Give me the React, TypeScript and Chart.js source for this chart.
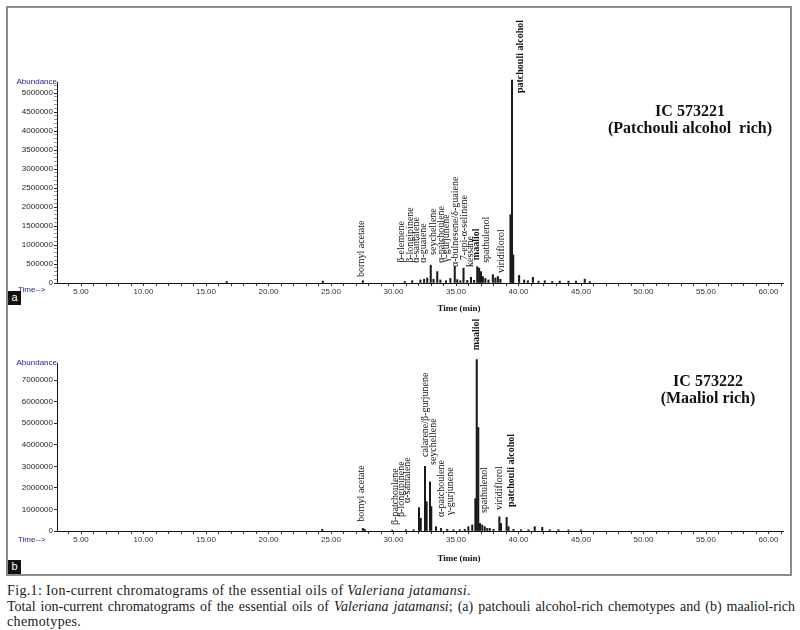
import React, { useEffect, useRef } from 'react';
import { Chart, registerables } from 'chart.js';
Chart.register(...registerables);

// ---------- Panel a: IC 573221 (patchouli alcohol rich) ----------
const timesA = [16.65, 24.35, 27.55, 30.9, 31.5, 32.15, 32.45, 32.7, 32.98, 33.2, 33.5, 33.75, 34.2, 34.55, 34.9, 35.1, 35.35, 35.6, 35.9, 36.2, 36.45, 36.7, 36.85, 37.0, 37.15, 37.35, 37.6, 37.95, 38.15, 38.35, 38.55, 39.36, 39.48, 39.58, 40.05, 40.45, 40.75, 41.15, 41.6, 42.1, 42.7, 43.3, 44.0, 44.6, 45.3, 45.7];
const abundA = [40000, 50000, 60000, 40000, 60000, 80000, 100000, 130000, 470000, 100000, 300000, 80000, 60000, 120000, 430000, 90000, 60000, 390000, 70000, 150000, 70000, 430000, 390000, 300000, 170000, 120000, 80000, 220000, 130000, 170000, 100000, 1800000, 5340000, 740000, 200000, 80000, 60000, 150000, 50000, 60000, 40000, 50000, 50000, 50000, 100000, 40000];
const labelNamesA = ['bornyl acetate', 'β-elemene', 'β-longipinene', 'α-santalene', 'α-guaiene', 'seychellene', 'α-patchoulene', 'γ-gurjunene', 'α-bulnesene/δ-guaiene', '7-epi-α-selinene', 'kessane', 'maaliol', 'spathulenol', 'viridiflorol', 'patchouli alcohol'];
const labelTimesA = [27.46, 30.6, 31.32, 31.86, 32.36, 33.16, 33.8, 34.26, 34.92, 35.64, 36.12, 36.66, 37.46, 38.66, 40.12];
const labelBaseA = [160000, 530000, 530000, 530000, 530000, 740000, 530000, 550000, 420000, 600000, 420000, 600000, 530000, 260000, 5000000];
const yTicksA = { max: 5290000, step: 100000, labelStep: 500000 };

// ---------- Panel b: IC 573222 (maaliol rich) ----------
const timesB = [24.3, 27.55, 27.7, 29.9, 31.0, 31.6, 32.04, 32.18, 32.52, 32.65, 32.92, 33.02, 33.4, 33.8, 34.3, 34.8, 35.3, 35.7, 35.99, 36.3, 36.55, 36.66, 36.78, 36.92, 37.1, 37.3, 37.5, 37.7, 38.0, 38.47, 38.6, 39.05, 39.2, 39.6, 40.2, 40.8, 41.3, 41.9, 42.5, 43.2, 44.0, 45.0];
const abundB = [80000, 120000, 80000, 40000, 50000, 60000, 1080000, 590000, 3000000, 1360000, 2280000, 1130000, 200000, 120000, 80000, 60000, 60000, 80000, 200000, 280000, 1500000, 7950000, 4800000, 350000, 280000, 200000, 120000, 120000, 80000, 660000, 350000, 630000, 200000, 80000, 60000, 60000, 200000, 170000, 60000, 60000, 50000, 50000];
const labelNamesB = ['bornyl acetate', 'β-patchoulene', 'β-longipinene', 'α-santalene', 'calarene/β-gurjunene', 'seychellene', 'α-patchoulene', 'γ-gurjunene', 'maaliol', 'spathulenol', 'viridiflorol', 'patchouli alcohol'];
const labelTimesB = [27.46, 30.12, 30.66, 31.1, 32.52, 33.16, 33.86, 34.52, 36.66, 37.24, 38.46, 39.46];
const labelBaseB = [430000, 280000, 650000, 1300000, 3430000, 3060000, 650000, 740000, 8380000, 830000, 970000, 1110000];
const yTicksB = { max: 7790000, step: 1000000, labelStep: 1000000 };

const xRange = { min: 3.08, max: 61.16, step: 1, labelStep: 5 };

const captionLine1 = 'Fig.1: Ion-current chromatograms of the essential oils of ';
const captionLine2a = 'Total ion-current chromatograms of the essential oils of ';
const captionLine2b = '; (a) patchouli alcohol-rich chemotypes and (b) maaliol-rich';
const captionLine3 = 'chemotypes.';
const species = 'Valeriana jatamansi';

const SANS = '"Liberation Sans", Arial, sans-serif';
const SERIF = '"Liberation Serif", "Times New Roman", serif';
const BOLD_NAMES = ['maaliol', 'patchouli alcohol'];

function labelPlugin(names: string[], times: number[], bases: number[]) {
  return {
    id: 'peakLabels',
    afterDraw(chart: any) {
      const { ctx, scales } = chart;
      const x = scales.x, y = scales.y;
      ctx.save();
      names.forEach((n, i) => {
        const px = x.getPixelForValue(times[i]);
        const py = y.getPixelForValue(bases[i]);
        ctx.save();
        ctx.translate(px, py);
        ctx.rotate(-Math.PI / 2);
        ctx.font = (BOLD_NAMES.includes(n) ? 'bold 10px ' : '10px ') + SERIF;
        ctx.textAlign = 'left';
        ctx.textBaseline = 'middle';
        ctx.fillStyle = '#111';
        ctx.fillText(n, 0, 0);
        ctx.restore();
      });
      ctx.restore();
    },
  };
}

type PanelProps = {
  times: number[]; values: number[];
  names: string[]; labelTimes: number[]; labelBases: number[];
  yt: { max: number; step: number; labelStep: number };
  height: number; padTop: number; padBottom: number; top: number;
};

function Panel(p: PanelProps) {
  const ref = useRef<HTMLCanvasElement>(null);
  useEffect(() => {
    if (!ref.current) return;
    const chart = new Chart(ref.current, {
      type: 'bar',
      data: {
        datasets: [{
          data: p.times.map((t, i) => ({ x: t, y: p.values[i] })),
          backgroundColor: '#1a1a1a',
          borderWidth: 0,
          barThickness: 1.4,
          clip: false as any,
        }],
      },
      options: {
        animation: false,
        responsive: false,
        events: [],
        layout: { padding: { left: 0, right: 17, top: p.padTop, bottom: p.padBottom } },
        plugins: { legend: { display: false }, tooltip: { enabled: false } },
        scales: {
          x: {
            type: 'linear', min: xRange.min, max: xRange.max, offset: false,
            afterFit: (s: any) => { s.height = 17; },
            border: { display: true, color: '#111', width: 1 },
            grid: { display: true, offset: false, drawOnChartArea: false, drawTicks: true, tickLength: 3, tickColor: '#333', tickWidth: 1 },
            ticks: {
              stepSize: xRange.step, includeBounds: false, autoSkip: false, source: 'data', maxRotation: 0, minRotation: 0,
              padding: 1, color: '#333', font: { family: SANS, size: 8 },
              callback: (v: any) => (Math.round(Number(v)) % xRange.labelStep === 0 ? Number(v).toFixed(2) : ''),
            },
          },
          y: {
            type: 'linear', beginAtZero: true, max: p.yt.max,
            afterFit: (s: any) => { s.width = 57; },
            border: { display: true, color: '#111', width: 1 },
            grid: {
              display: true, drawOnChartArea: false, drawTicks: true, tickLength: 3,
              tickColor: (c: any) => (Math.round(c.tick?.value ?? 0) % p.yt.labelStep === 0 ? '#222' : '#999'),
            },
            ticks: {
              stepSize: p.yt.step, includeBounds: false, autoSkip: false, source: 'data', padding: 1,
              color: '#222', font: { family: SANS, size: 8 },
              callback: (v: any) => (Math.round(Number(v)) % p.yt.labelStep === 0 ? String(Math.round(Number(v))) : ''),
            },
          },
        },
      } as any,
      plugins: [labelPlugin(p.names, p.labelTimes, p.labelBases)],
    });
    return () => chart.destroy();
  }, []);
  return (
    <canvas ref={ref} width={800} height={p.height}
      style={{ position: 'absolute', left: 0, top: p.top, width: 800, height: p.height }} />
  );
}

const abs = (s: React.CSSProperties): React.CSSProperties => ({ position: 'absolute', ...s });

export default function App() {
  const blue = '#23239a';
  return (
    <div style={abs({ left: 0, top: 0, width: 800, height: 630, background: '#fff', overflow: 'hidden' })}>
      <div style={abs({ left: 6, top: 6, width: 782, height: 566, border: '2px solid #8c8c8c' })} />
      <Panel times={timesA} values={abundA} names={labelNamesA} labelTimes={labelTimesA} labelBases={labelBaseA}
        yt={yTicksA} height={310} padTop={82} padBottom={10} top={0} />
      <Panel times={timesB} values={abundB} names={labelNamesB} labelTimes={labelTimesB} labelBases={labelBaseB}
        yt={yTicksB} height={270} padTop={53} padBottom={32} top={310} />

      {/* axis captions panel a */}
      <div style={abs({ left: 10, top: 77, width: 47, textAlign: 'right', font: `8px ${SANS}`, color: blue, lineHeight: '10px' })}>Abundance</div>
      <div style={abs({ left: 18, top: 285, font: `8px ${SANS}`, color: blue, lineHeight: '10px' })}>Time--&gt;</div>
      <div style={abs({ left: 400, top: 302, width: 118, textAlign: 'center', font: `bold 9px ${SERIF}`, color: '#111', lineHeight: '12px' })}>Time (min)</div>
      <div style={abs({ left: 8, top: 291, width: 13, height: 14, background: '#111', color: '#fff', font: `11px ${SANS}`, lineHeight: '13px', textAlign: 'center' })}>a</div>
      <div style={abs({ left: 590, top: 102, width: 200, textAlign: 'center', font: `bold 16px ${SERIF}`, color: '#111', lineHeight: '17px' })}>IC 573221</div>
      <div style={abs({ left: 590, top: 119, width: 200, textAlign: 'center', font: `bold 16px ${SERIF}`, color: '#111', lineHeight: '17px', whiteSpace: 'pre' })}>(Patchouli alcohol  rich)</div>

      {/* axis captions panel b */}
      <div style={abs({ left: 10, top: 358, width: 47, textAlign: 'right', font: `8px ${SANS}`, color: blue, lineHeight: '10px' })}>Abundance</div>
      <div style={abs({ left: 18, top: 535, font: `8px ${SANS}`, color: blue, lineHeight: '10px' })}>Time--&gt;</div>
      <div style={abs({ left: 400, top: 552, width: 118, textAlign: 'center', font: `bold 9px ${SERIF}`, color: '#111', lineHeight: '12px' })}>Time (min)</div>
      <div style={abs({ left: 8, top: 560, width: 13, height: 14, background: '#111', color: '#fff', font: `11px ${SANS}`, lineHeight: '13px', textAlign: 'center' })}>b</div>
      <div style={abs({ left: 608, top: 372, width: 200, textAlign: 'center', font: `bold 16px ${SERIF}`, color: '#111', lineHeight: '17px' })}>IC 573222</div>
      <div style={abs({ left: 608, top: 389, width: 200, textAlign: 'center', font: `bold 16px ${SERIF}`, color: '#111', lineHeight: '17px' })}>(Maaliol rich)</div>

      {/* figure caption */}
      <div style={abs({ left: 7, top: 583, width: 788, font: `14px ${SERIF}`, color: '#1a1a1a', lineHeight: '15.5px' })}>
        <div style={{ letterSpacing: '0.35px' }}>{captionLine1}<i>{species}</i>.</div>
        <div style={{ textAlign: 'justify', textAlignLast: 'justify', whiteSpace: 'nowrap' }}>{captionLine2a}<i>{species}</i>{captionLine2b}</div>
        <div style={{ letterSpacing: '0.35px' }}>{captionLine3}</div>
      </div>
    </div>
  );
}
